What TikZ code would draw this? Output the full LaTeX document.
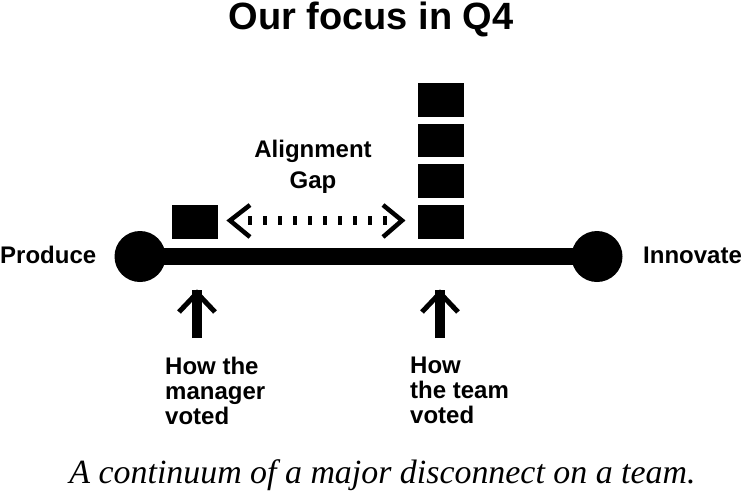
\documentclass[tikz,border=0pt]{standalone}
\usepackage{fontspec}
\setmainfont{Liberation Serif}
\newfontfamily\lbl{Liberation Sans}[BoldFont={Liberation Sans Bold}]
\begin{document}
\begin{tikzpicture}[x=1pt,y=-1pt,
  lab/.style={font=\lbl\bfseries\fontsize{24}{25}\selectfont, inner sep=0pt},
  blk/.style={fill=black, draw=none, inner sep=0pt, minimum width=46pt, minimum height=33.5pt},
  endpt/.style={circle, fill=black, inner sep=0pt, minimum size=51pt},
  dashline/.style={line width=9pt, dash pattern=on 4pt off 11pt},
  chev/.style={line width=4.5pt, miter limit=10},
  stem/.style={line width=10pt},
  head/.style={line width=5pt, miter limit=10}]
\useasboundingbox (0,0) rectangle (750,491);
% title
\node[font=\lbl\bfseries\fontsize{38}{40}\selectfont, inner sep=0pt, anchor=base] (title) at (371,29) {Our focus in Q4};
% continuum
\node[endpt] (L) at (140,256.5) {};
\node[endpt] (R) at (597,256.5) {};
\draw[line width=17pt] (L.center) -- (R.center);
\node[lab, anchor=base west] (prod) at (0,263) {Produce};
\node[lab, anchor=base west] (inno) at (643,263) {Innovate};
% manager block
\node[blk, anchor=north west] (mgr) at (172,205) {};
% team blocks
\node[blk, anchor=north west] (t1) at (418,83) {};
\node[blk, anchor=north west] (t2) at (418,123.5) {};
\node[blk, anchor=north west] (t3) at (418,164) {};
\node[blk, anchor=north west] (t4) at (418,205) {};
% alignment gap
\node[lab, align=center, font=\lbl\bfseries\fontsize{24}{31}\selectfont, anchor=north] (gap) at (313,140) {Alignment\\Gap};
\coordinate (gL) at (248,220.5);
\coordinate (gR) at (388,220.5);
\coordinate (cL) at (230,220.5);
\coordinate (cR) at (402,220.5);
\draw[dashline] (gL) -- (gR);
\draw[chev] ([shift={(20,-15.5)}]cL) -- (cL) -- ([shift={(20,16.5)}]cL);
\draw[chev] ([shift={(-19,-15.5)}]cR) -- (cR) -- ([shift={(-19,16.5)}]cR);
% arrows
\coordinate (a1b) at (197,338);
\coordinate (a1t) at (197,293);
\coordinate (a2b) at (440,338);
\coordinate (a2t) at (440,293);
\draw[stem] (a1b) -- ([yshift=3]a1t);
\draw[head] ([shift={(-18,19)}]a1t) -- (a1t) -- ([shift={(18,19)}]a1t);
\draw[stem] (a2b) -- ([yshift=3]a2t);
\draw[head] ([shift={(-18,19)}]a2t) -- (a2t) -- ([shift={(18,19)}]a2t);
\node[lab, align=left, anchor=north west] (mtxt) at (165,357) {How the\\manager\\voted};
\node[lab, align=left, anchor=north west] (ttxt) at (410,357) {How\\the team\\voted};
% caption
\node[inner sep=0pt, anchor=base] (cap) at (382.5,483) {\resizebox{626pt}{!}{\itshape A continuum of a major disconnect on a team.}};
\end{tikzpicture}
\end{document}
